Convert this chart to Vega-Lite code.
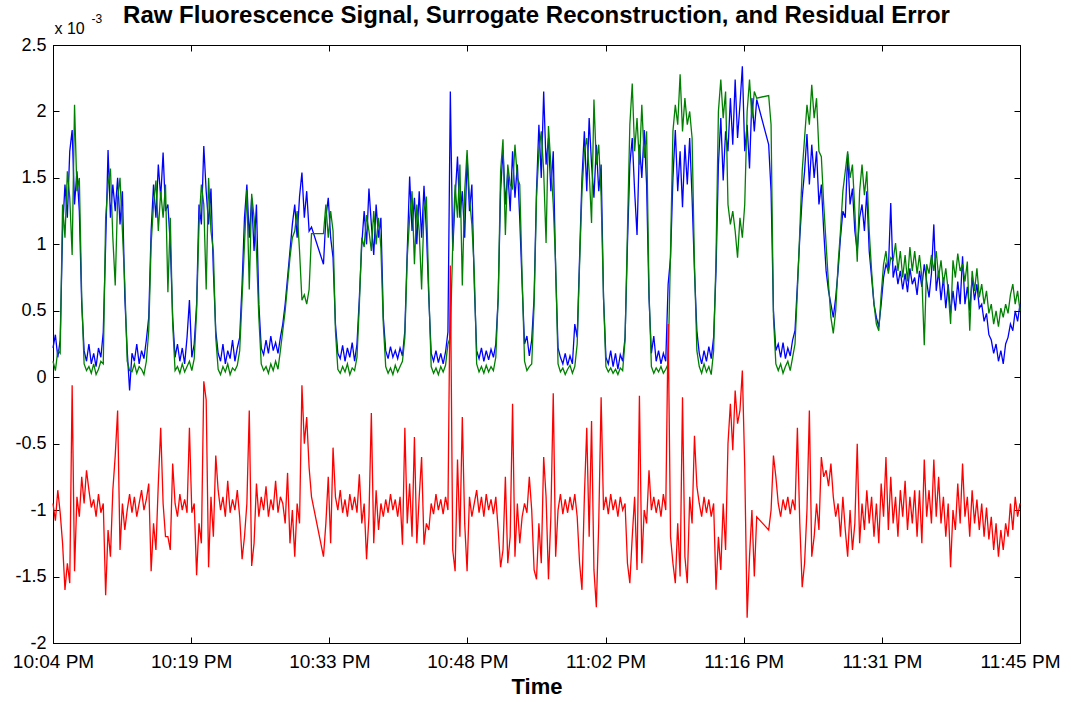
{
"$schema": "https://vega.github.io/schema/vega-lite/v6.json",
"width": 967,
"height": 598,
"autosize": {"type": "none"},
"padding": {"left": 53, "top": 45, "right": 51, "bottom": 59},
"background": "white",
"config": {
  "view": {"stroke": "#000000", "strokeWidth": 1},
  "font": "Liberation Sans",
  "axis": {"grid": false, "domainColor": "#000000", "tickColor": "#000000", "labelColor": "#000000", "titleColor": "#000000", "labelFont": "Liberation Sans", "titleFont": "Liberation Sans"}
},
"title": {"text": "Raw Fluorescence Signal, Surrogate Reconstruction, and Residual Error", "fontSize": 24, "fontWeight": "bold", "font": "Liberation Sans", "color": "#000000", "anchor": "middle", "frame": "group", "offset": -15, "dy": 20, "baseline": "alphabetic"},
"data": {"values": [
{"t":0,"b":0.22,"g":0.12,"r":-0.95},{"t":0.25,"b":0.32,"g":0.05,"r":-1.08},{"t":0.5,"b":0.15,"g":0.2,"r":-0.85},{"t":0.75,"b":0.28,"g":0.18,"r":-1.02},
{"t":1,"b":1.1,"g":1.3,"r":-1.25},{"t":1.25,"b":1.45,"g":1.05,"r":-1.6},{"t":1.5,"b":1.2,"g":1.55,"r":-1.4},{"t":1.75,"b":1.7,"g":1.35,"r":-1.55},
{"t":2,"b":1.86,"g":0.92,"r":-0.06},{"t":2.25,"b":1.3,"g":2.05,"r":-1.46},{"t":2.5,"b":1.55,"g":1.4,"r":-0.9},{"t":2.75,"b":1.25,"g":1.5,"r":-1.05},
{"t":3,"b":0.55,"g":0.6,"r":-0.75},{"t":3.25,"b":0.2,"g":0.1,"r":-0.95},{"t":3.5,"b":0.12,"g":0.05,"r":-0.7},{"t":3.75,"b":0.25,"g":0.08,"r":-0.85},
{"t":4,"b":0.1,"g":0.03,"r":-0.98},{"t":4.25,"b":0.18,"g":0.1,"r":-0.92},{"t":4.5,"b":0.08,"g":0.02,"r":-1.05},{"t":4.75,"b":0.22,"g":0.06,"r":-0.88},
{"t":5,"b":0.15,"g":0.12,"r":-1.02},{"t":5.25,"b":0.34,"g":0.1,"r":-0.95},{"t":5.5,"b":1.0,"g":1.2,"r":-1.64},{"t":5.75,"b":1.71,"g":1.45,"r":-1.15},
{"t":6,"b":1.2,"g":1.57,"r":-1.35},{"t":6.25,"b":1.45,"g":1.05,"r":-0.85},{"t":6.5,"b":1.25,"g":0.69,"r":-0.59},{"t":6.75,"b":1.5,"g":1.35,"r":-0.25},
{"t":7,"b":1.15,"g":1.5,"r":-1.3},{"t":7.25,"b":1.4,"g":1.1,"r":-0.95},{"t":7.5,"b":0.6,"g":0.7,"r":-1.15},{"t":7.75,"b":0.2,"g":0.12,"r":-1.0},
{"t":8,"b":-0.1,"g":0.05,"r":-0.88},{"t":8.25,"b":0.18,"g":0.04,"r":-1.02},{"t":8.5,"b":0.12,"g":0.1,"r":-0.9},{"t":8.75,"b":0.25,"g":0.03,"r":-1.05},
{"t":9,"b":0.1,"g":0.08,"r":-0.95},{"t":9.25,"b":0.2,"g":0.06,"r":-0.85},{"t":9.5,"b":0.14,"g":0.02,"r":-1.0},{"t":9.75,"b":0.28,"g":0.12,"r":-0.92},
{"t":10,"b":0.45,"g":0.35,"r":-0.8},{"t":10.25,"b":1.1,"g":1.0,"r":-1.46},{"t":10.5,"b":1.45,"g":1.3,"r":-1.1},{"t":10.75,"b":1.2,"g":1.48,"r":-1.3},
{"t":11,"b":1.6,"g":1.1,"r":-0.8},{"t":11.25,"b":1.35,"g":1.4,"r":-0.38},{"t":11.5,"b":1.69,"g":1.2,"r":-0.95},{"t":11.75,"b":1.25,"g":1.45,"r":-1.2},
{"t":12,"b":1.3,"g":0.64,"r":-1.2},{"t":12.25,"b":1.0,"g":1.2,"r":-1.3},{"t":12.5,"b":0.45,"g":0.4,"r":-0.65},{"t":12.75,"b":0.15,"g":0.05,"r":-0.95},
{"t":13,"b":0.25,"g":0.08,"r":-1.05},{"t":13.25,"b":0.12,"g":0.03,"r":-0.88},{"t":13.5,"b":0.22,"g":0.1,"r":-1.0},{"t":13.75,"b":0.1,"g":0.04,"r":-0.92},
{"t":14,"b":0.3,"g":0.08,"r":-1.02},{"t":14.25,"b":0.58,"g":0.12,"r":-0.38},{"t":14.5,"b":0.15,"g":0.05,"r":-1.02},{"t":14.75,"b":0.25,"g":0.14,"r":-0.95},
{"t":15,"b":0.55,"g":0.5,"r":-1.49},{"t":15.25,"b":1.3,"g":1.15,"r":-1.1},{"t":15.5,"b":1.15,"g":1.45,"r":-1.25},{"t":15.75,"b":1.74,"g":1.3,"r":-0.03},
{"t":16,"b":1.4,"g":0.66,"r":-0.17},{"t":16.25,"b":1.15,"g":1.5,"r":-1.43},{"t":16.5,"b":1.42,"g":1.1,"r":-0.9},{"t":16.75,"b":0.8,"g":0.95,"r":-1.2},
{"t":17,"b":0.35,"g":0.3,"r":-0.59},{"t":17.25,"b":0.18,"g":0.06,"r":-0.85},{"t":17.5,"b":0.12,"g":0.02,"r":-1.0},{"t":17.75,"b":0.25,"g":0.08,"r":-0.9},
{"t":18,"b":0.1,"g":0.04,"r":-1.05},{"t":18.25,"b":0.2,"g":0.1,"r":-0.78},{"t":18.5,"b":0.14,"g":0.02,"r":-1.02},{"t":18.75,"b":0.28,"g":0.07,"r":-0.92},
{"t":19,"b":0.12,"g":0.05,"r":-1.0},{"t":19.25,"b":0.22,"g":0.09,"r":-0.85},{"t":19.5,"b":0.3,"g":0.2,"r":-1.05},{"t":19.75,"b":0.7,"g":0.6,"r":-1.37},
{"t":20,"b":1.2,"g":1.0,"r":-1.2},{"t":20.25,"b":1.45,"g":1.41,"r":-0.95},{"t":20.5,"b":1.05,"g":0.66,"r":-0.25},{"t":20.75,"b":1.35,"g":1.38,"r":-1.42},
{"t":21,"b":0.95,"g":1.2,"r":-1.25},{"t":21.25,"b":1.3,"g":0.95,"r":-0.8},{"t":21.5,"b":0.55,"g":0.45,"r":-1.05},{"t":21.75,"b":0.22,"g":0.1,"r":-0.9},
{"t":22,"b":0.17,"g":0.05,"r":-1.0},{"t":22.25,"b":0.28,"g":0.08,"r":-0.82},{"t":22.5,"b":0.18,"g":0.03,"r":-1.05},{"t":22.75,"b":0.31,"g":0.1,"r":-0.92},
{"t":23,"b":0.2,"g":0.05,"r":-1.0},{"t":23.25,"b":0.26,"g":0.12,"r":-0.78},{"t":23.5,"b":0.18,"g":0.06,"r":-1.02},{"t":23.75,"b":0.3,"g":0.2,"r":-0.9},
{"t":24,"b":0.4,"g":0.35,"r":-0.95},{"t":24.25,"b":0.55,"g":0.5,"r":-1.1},{"t":24.5,"b":0.75,"g":0.7,"r":-0.72},{"t":24.75,"b":0.95,"g":0.9,"r":-1.25},
{"t":25,"b":1.15,"g":1.05,"r":-1.0},{"t":25.25,"b":1.3,"g":1.1,"r":-1.35},{"t":25.5,"b":1.05,"g":1.25,"r":-0.95},{"t":25.75,"b":1.36,"g":0.95,"r":-1.1},
{"t":26,"b":1.54,"g":0.58,"r":-0.06},{"t":26.25,"b":1.2,"g":0.62,"r":-0.5},{"t":26.5,"b":1.4,"g":0.55,"r":-0.3},{"t":26.75,"b":1.1,"g":0.66,"r":-0.68},
{"t":27,"b":1.13,"g":1.08,"r":-0.9},{"t":28.25,"b":0.85,"g":1.08,"r":-1.35},{"t":28.5,"b":1.2,"g":1.3,"r":-1.1},{"t":28.75,"b":1.35,"g":1.05,"r":-0.75},
{"t":29,"b":1.05,"g":1.25,"r":-1.25},{"t":29.25,"b":0.9,"g":1.1,"r":-0.53},{"t":29.5,"b":0.4,"g":0.35,"r":-0.9},{"t":29.75,"b":0.18,"g":0.06,"r":-1.0},
{"t":30,"b":0.14,"g":0.03,"r":-0.85},{"t":30.25,"b":0.24,"g":0.08,"r":-1.02},{"t":30.5,"b":0.12,"g":0.04,"r":-0.92},{"t":30.75,"b":0.22,"g":0.1,"r":-1.05},
{"t":31,"b":0.15,"g":0.02,"r":-0.88},{"t":31.25,"b":0.26,"g":0.07,"r":-1.0},{"t":31.5,"b":0.12,"g":0.05,"r":-0.9},{"t":31.75,"b":0.25,"g":0.15,"r":-1.02},
{"t":32,"b":0.6,"g":0.55,"r":-0.73},{"t":32.25,"b":1.0,"g":1.05,"r":-1.1},{"t":32.5,"b":1.25,"g":0.98,"r":-0.95},{"t":32.75,"b":1.0,"g":1.22,"r":-1.37},
{"t":33,"b":1.42,"g":1.1,"r":-1.05},{"t":33.25,"b":1.15,"g":0.95,"r":-0.27},{"t":33.5,"b":0.92,"g":1.25,"r":-1.25},{"t":33.75,"b":1.3,"g":1.0,"r":-0.85},
{"t":34,"b":1.05,"g":1.2,"r":-1.15},{"t":34.25,"b":1.2,"g":0.97,"r":-0.95},{"t":34.5,"b":0.45,"g":0.4,"r":-1.05},{"t":34.75,"b":0.2,"g":0.08,"r":-0.92},
{"t":35,"b":0.14,"g":0.03,"r":-1.02},{"t":35.25,"b":0.23,"g":0.07,"r":-0.88},{"t":35.5,"b":0.15,"g":0.02,"r":-1.0},{"t":35.75,"b":0.2,"g":0.09,"r":-0.92},
{"t":36,"b":0.14,"g":0.04,"r":-1.05},{"t":36.25,"b":0.22,"g":0.08,"r":-0.9},{"t":36.5,"b":0.16,"g":0.12,"r":-1.26},{"t":36.75,"b":0.35,"g":0.3,"r":-0.38},
{"t":37,"b":0.95,"g":0.9,"r":-1.1},{"t":37.25,"b":1.51,"g":1.2,"r":-0.8},{"t":37.5,"b":1.1,"g":1.4,"r":-1.2},{"t":37.75,"b":1.35,"g":0.85,"r":-0.45},
{"t":38,"b":1.0,"g":1.3,"r":-1.25},{"t":38.25,"b":1.4,"g":1.1,"r":-0.9},{"t":38.5,"b":1.05,"g":0.66,"r":-0.6},{"t":38.75,"b":1.44,"g":1.25,"r":-1.26},
{"t":39,"b":1.1,"g":1.36,"r":-1.1},{"t":39.25,"b":0.6,"g":0.65,"r":-1.15},{"t":39.5,"b":0.18,"g":0.08,"r":-0.95},{"t":39.75,"b":0.12,"g":0.03,"r":-1.03},
{"t":40,"b":0.2,"g":0.07,"r":-0.88},{"t":40.25,"b":0.11,"g":0.02,"r":-1.0},{"t":40.5,"b":0.18,"g":0.08,"r":-0.92},{"t":40.75,"b":0.1,"g":0.04,"r":-1.03},
{"t":41,"b":0.19,"g":0.09,"r":-0.9},{"t":41.25,"b":0.34,"g":0.25,"r":-1.0},{"t":41.5,"b":2.15,"g":0.3,"r":0.84},{"t":41.75,"b":0.95,"g":1.0,"r":-1.3},
{"t":42,"b":1.35,"g":1.45,"r":-1.46},{"t":42.25,"b":1.66,"g":1.2,"r":-0.62},{"t":42.5,"b":1.2,"g":1.6,"r":-1.2},{"t":42.75,"b":1.4,"g":0.69,"r":-0.3},
{"t":43,"b":1.05,"g":1.4,"r":-1.1},{"t":43.25,"b":1.66,"g":1.71,"r":-1.46},{"t":43.5,"b":1.25,"g":1.35,"r":-0.9},{"t":43.75,"b":1.45,"g":1.15,"r":-1.05},
{"t":44,"b":0.7,"g":0.8,"r":-0.95},{"t":44.25,"b":0.2,"g":0.1,"r":-0.85},{"t":44.5,"b":0.14,"g":0.04,"r":-1.02},{"t":44.75,"b":0.22,"g":0.08,"r":-0.9},
{"t":45,"b":0.12,"g":0.03,"r":-1.05},{"t":45.25,"b":0.2,"g":0.09,"r":-0.88},{"t":45.5,"b":0.13,"g":0.04,"r":-1.0},{"t":45.75,"b":0.21,"g":0.08,"r":-0.92},
{"t":46,"b":0.15,"g":0.05,"r":-1.03},{"t":46.25,"b":0.25,"g":0.15,"r":-0.9},{"t":46.5,"b":0.6,"g":0.6,"r":-1.15},{"t":46.75,"b":1.4,"g":1.55,"r":-1.43},
{"t":47,"b":1.71,"g":1.79,"r":-1.3},{"t":47.25,"b":1.3,"g":1.07,"r":-0.75},{"t":47.5,"b":1.55,"g":1.6,"r":-1.4},{"t":47.75,"b":1.25,"g":1.45,"r":-1.2},
{"t":48,"b":1.7,"g":1.42,"r":-0.2},{"t":48.25,"b":1.35,"g":1.75,"r":-1.35},{"t":48.5,"b":1.6,"g":1.5,"r":-0.95},{"t":48.75,"b":1.19,"g":1.45,"r":-1.25},
{"t":49,"b":0.7,"g":0.75,"r":-1.05},{"t":49.25,"b":0.25,"g":0.12,"r":-0.95},{"t":49.5,"b":0.31,"g":0.05,"r":-1.02},{"t":49.75,"b":0.16,"g":0.08,"r":-0.75},
{"t":50,"b":0.28,"g":0.1,"r":-1.0},{"t":50.25,"b":0.6,"g":0.55,"r":-1.45},{"t":50.5,"b":1.4,"g":1.35,"r":-1.52},{"t":50.75,"b":1.9,"g":1.7,"r":-1.1},
{"t":51,"b":1.5,"g":1.85,"r":-1.4},{"t":51.25,"b":2.15,"g":1.55,"r":-0.6},{"t":51.5,"b":1.6,"g":1.01,"r":-0.9},{"t":51.75,"b":1.8,"g":1.89,"r":-1.52},
{"t":52,"b":1.4,"g":1.6,"r":-1.05},{"t":52.25,"b":1.7,"g":1.3,"r":-0.12},{"t":52.5,"b":0.8,"g":0.85,"r":-1.35},{"t":52.75,"b":0.22,"g":0.1,"r":-1.0},
{"t":53,"b":0.15,"g":0.04,"r":-0.88},{"t":53.25,"b":0.1,"g":0.07,"r":-1.03},{"t":53.5,"b":0.18,"g":0.02,"r":-0.92},{"t":53.75,"b":0.09,"g":0.06,"r":-1.02},
{"t":54,"b":0.16,"g":0.09,"r":-0.9},{"t":54.25,"b":0.1,"g":0.03,"r":-1.0},{"t":54.5,"b":0.4,"g":0.08,"r":-0.88},{"t":54.75,"b":0.3,"g":0.25,"r":-1.05},
{"t":55,"b":0.9,"g":0.85,"r":-1.4},{"t":55.25,"b":1.5,"g":1.4,"r":-1.6},{"t":55.5,"b":1.85,"g":1.7,"r":-0.9},{"t":55.75,"b":1.4,"g":1.8,"r":-0.38},
{"t":56,"b":1.95,"g":1.55,"r":-1.2},{"t":56.25,"b":1.6,"g":1.16,"r":-0.33},{"t":56.5,"b":1.35,"g":2.09,"r":-1.45},{"t":56.75,"b":1.75,"g":1.6,"r":-1.73},
{"t":57,"b":1.4,"g":1.75,"r":-1.1},{"t":57.25,"b":1.6,"g":1.36,"r":-0.15},{"t":57.5,"b":0.6,"g":0.6,"r":-1.0},{"t":57.75,"b":0.15,"g":0.08,"r":-0.9},
{"t":58,"b":0.1,"g":0.04,"r":-1.03},{"t":58.25,"b":0.2,"g":0.07,"r":-0.88},{"t":58.5,"b":0.08,"g":0.03,"r":-1.0},{"t":58.75,"b":0.18,"g":0.06,"r":-0.92},
{"t":59,"b":0.06,"g":0.02,"r":-1.05},{"t":59.25,"b":0.17,"g":0.07,"r":-0.9},{"t":59.5,"b":0.12,"g":0.05,"r":-1.0},{"t":59.75,"b":0.3,"g":0.28,"r":-0.95},
{"t":60,"b":1.0,"g":1.1,"r":-1.4},{"t":60.25,"b":1.6,"g":1.9,"r":-1.55},{"t":60.5,"b":1.8,"g":2.21,"r":-1.2},{"t":60.75,"b":1.4,"g":1.7,"r":-0.9},
{"t":61,"b":1.07,"g":1.95,"r":-1.45},{"t":61.25,"b":1.75,"g":1.6,"r":-0.14},{"t":61.5,"b":1.5,"g":2.05,"r":-1.4},{"t":61.75,"b":1.86,"g":1.65,"r":-1.0},
{"t":62,"b":1.45,"g":1.85,"r":-1.1},{"t":62.25,"b":0.6,"g":0.65,"r":-0.7},{"t":62.5,"b":0.18,"g":0.08,"r":-1.0},{"t":62.75,"b":0.31,"g":0.03,"r":-0.9},
{"t":63,"b":0.12,"g":0.07,"r":-1.02},{"t":63.25,"b":0.2,"g":0.04,"r":-0.92},{"t":63.5,"b":0.1,"g":0.08,"r":-1.05},{"t":63.75,"b":0.18,"g":0.03,"r":-0.88},
{"t":64,"b":0.12,"g":0.06,"r":-1.0},{"t":64.25,"b":0.7,"g":0.1,"r":0.4},{"t":64.5,"b":0.9,"g":0.95,"r":-1.2},{"t":64.75,"b":1.5,"g":1.85,"r":-1.4},
{"t":65,"b":1.86,"g":2.05,"r":-1.55},{"t":65.25,"b":1.4,"g":1.9,"r":-1.1},{"t":65.5,"b":1.7,"g":2.28,"r":-1.5},{"t":65.75,"b":1.28,"g":1.85,"r":-0.15},
{"t":66,"b":1.75,"g":2.1,"r":-1.35},{"t":66.25,"b":1.45,"g":1.9,"r":-1.55},{"t":66.5,"b":1.8,"g":2.0,"r":-0.9},{"t":66.75,"b":1.35,"g":1.8,"r":-1.1},
{"t":67,"b":0.8,"g":0.85,"r":-0.44},{"t":67.25,"b":0.35,"g":0.2,"r":-0.82},{"t":67.5,"b":0.18,"g":0.08,"r":-0.95},{"t":67.75,"b":0.1,"g":0.03,"r":-1.05},
{"t":68,"b":0.2,"g":0.1,"r":-0.9},{"t":68.25,"b":0.12,"g":0.04,"r":-1.02},{"t":68.5,"b":0.23,"g":0.08,"r":-0.92},{"t":68.75,"b":0.14,"g":0.02,"r":-1.05},
{"t":69,"b":0.3,"g":0.2,"r":-0.95},{"t":69.25,"b":0.8,"g":0.9,"r":-1.6},{"t":69.5,"b":1.6,"g":2.0,"r":-1.2},{"t":69.75,"b":1.95,"g":2.24,"r":-1.45},
{"t":70,"b":1.48,"g":1.95,"r":-0.95},{"t":70.25,"b":1.85,"g":2.15,"r":-1.3},{"t":70.5,"b":1.7,"g":1.3,"r":-0.5},{"t":70.75,"b":2.1,"g":1.15,"r":-0.2},
{"t":71,"b":1.75,"g":1.25,"r":-0.55},{"t":71.25,"b":2.24,"g":1.1,"r":-0.1},{"t":71.5,"b":1.8,"g":0.9,"r":-0.35},{"t":71.75,"b":2.05,"g":1.2,"r":-0.25},
{"t":72,"b":2.34,"g":1.05,"r":0.05},{"t":72.25,"b":1.7,"g":1.3,"r":-0.68},{"t":72.5,"b":1.9,"g":2.0,"r":-1.81},{"t":72.75,"b":1.57,"g":2.24,"r":-1.35},
{"t":73,"b":2.1,"g":1.95,"r":-1.0},{"t":73.25,"b":1.85,"g":2.15,"r":-1.5},{"t":73.5,"b":2.09,"g":2.1,"r":-1.05},{"t":74.75,"b":1.75,"g":2.12,"r":-1.15},
{"t":75,"b":1.4,"g":1.9,"r":-1.0},{"t":75.25,"b":0.5,"g":0.45,"r":-0.59},{"t":75.5,"b":0.2,"g":0.1,"r":-0.75},{"t":75.75,"b":0.25,"g":0.05,"r":-0.95},
{"t":76,"b":0.15,"g":0.1,"r":-1.05},{"t":76.25,"b":0.26,"g":0.03,"r":-0.92},{"t":76.5,"b":0.14,"g":0.08,"r":-1.0},{"t":76.75,"b":0.22,"g":0.12,"r":-0.9},
{"t":77,"b":0.16,"g":0.05,"r":-1.03},{"t":77.25,"b":0.28,"g":0.15,"r":-0.92},{"t":77.5,"b":0.35,"g":0.25,"r":-1.0},{"t":77.75,"b":0.7,"g":0.65,"r":-0.38},
{"t":78,"b":1.05,"g":1.1,"r":-1.1},{"t":78.25,"b":1.35,"g":1.55,"r":-1.58},{"t":78.5,"b":1.55,"g":1.8,"r":-1.4},{"t":78.75,"b":1.83,"g":2.05,"r":-1.0},
{"t":79,"b":1.45,"g":1.9,"r":-0.25},{"t":79.25,"b":1.75,"g":2.2,"r":-1.35},{"t":79.5,"b":1.5,"g":1.95,"r":-1.2},{"t":79.75,"b":1.7,"g":2.1,"r":-0.95},
{"t":80,"b":1.3,"g":1.7,"r":-1.15},{"t":80.25,"b":1.45,"g":1.66,"r":-0.6},{"t":80.5,"b":1.1,"g":1.3,"r":-0.75},{"t":80.75,"b":0.8,"g":1.0,"r":-0.7},
{"t":81,"b":0.65,"g":0.7,"r":-0.82},{"t":81.25,"b":0.55,"g":0.45,"r":-0.65},{"t":81.5,"b":0.45,"g":0.33,"r":-0.9},{"t":81.75,"b":0.6,"g":0.5,"r":-1.05},
{"t":82,"b":0.8,"g":0.85,"r":-0.95},{"t":82.25,"b":1.05,"g":1.1,"r":-1.2},{"t":82.5,"b":1.25,"g":1.4,"r":-0.9},{"t":82.75,"b":1.2,"g":1.55,"r":-1.15},
{"t":83,"b":1.68,"g":1.7,"r":-1.35},{"t":83.25,"b":1.3,"g":1.5,"r":-1.0},{"t":83.5,"b":1.42,"g":1.6,"r":-1.3},{"t":83.75,"b":1.1,"g":1.25,"r":-1.1},
{"t":84,"b":0.95,"g":0.87,"r":-0.5},{"t":84.25,"b":1.2,"g":1.4,"r":-1.25},{"t":84.5,"b":1.3,"g":1.6,"r":-0.95},{"t":84.75,"b":1.1,"g":1.37,"r":-1.15},
{"t":85,"b":1.4,"g":1.55,"r":-0.85},{"t":85.25,"b":0.95,"g":1.1,"r":-1.1},{"t":85.5,"b":0.75,"g":0.8,"r":-0.9},{"t":85.75,"b":0.55,"g":0.55,"r":-1.2},
{"t":86,"b":0.45,"g":0.4,"r":-0.95},{"t":86.25,"b":0.38,"g":0.35,"r":-1.25},{"t":86.5,"b":0.55,"g":0.62,"r":-0.8},{"t":86.75,"b":0.75,"g":0.85,"r":-1.05},
{"t":87,"b":0.85,"g":0.95,"r":-0.6},{"t":87.25,"b":0.8,"g":0.78,"r":-1.15},{"t":87.5,"b":1.31,"g":0.9,"r":-0.75},{"t":87.75,"b":0.75,"g":0.88,"r":-1.1},
{"t":88,"b":0.84,"g":1.01,"r":-0.9},{"t":88.25,"b":0.7,"g":0.8,"r":-1.2},{"t":88.5,"b":0.8,"g":0.95,"r":-0.85},{"t":88.75,"b":0.66,"g":0.75,"r":-1.05},
{"t":89,"b":0.78,"g":0.92,"r":-0.78},{"t":89.25,"b":0.64,"g":0.72,"r":-1.15},{"t":89.5,"b":0.82,"g":0.98,"r":-0.9},{"t":89.75,"b":0.7,"g":0.8,"r":-1.1},
{"t":90,"b":0.75,"g":0.95,"r":-0.85},{"t":90.25,"b":0.62,"g":0.78,"r":-1.2},{"t":90.5,"b":0.8,"g":0.92,"r":-0.85},{"t":90.75,"b":0.68,"g":0.75,"r":-1.25},
{"t":91,"b":0.85,"g":0.24,"r":-0.62},{"t":91.25,"b":0.72,"g":0.85,"r":-1.05},{"t":91.5,"b":0.6,"g":0.78,"r":-0.85},{"t":91.75,"b":0.78,"g":0.92,"r":-1.1},
{"t":92,"b":1.15,"g":0.8,"r":-0.62},{"t":92.25,"b":0.65,"g":0.95,"r":-1.05},{"t":92.5,"b":0.8,"g":0.75,"r":-0.75},{"t":92.75,"b":0.58,"g":0.88,"r":-1.1},
{"t":93,"b":0.75,"g":0.7,"r":-0.9},{"t":93.25,"b":0.52,"g":0.82,"r":-1.2},{"t":93.5,"b":0.7,"g":0.65,"r":-0.95},{"t":93.75,"b":0.48,"g":0.4,"r":-1.43},
{"t":94,"b":0.65,"g":0.88,"r":-1.0},{"t":94.25,"b":0.5,"g":0.75,"r":-1.15},{"t":94.5,"b":0.72,"g":0.93,"r":-0.8},{"t":94.75,"b":0.55,"g":0.8,"r":-1.1},
{"t":95,"b":0.91,"g":0.85,"r":-0.65},{"t":95.25,"b":0.55,"g":0.72,"r":-1.05},{"t":95.5,"b":0.68,"g":0.87,"r":-0.9},{"t":95.75,"b":0.5,"g":0.35,"r":-1.2},
{"t":96,"b":0.75,"g":0.8,"r":-0.85},{"t":96.25,"b":0.58,"g":0.65,"r":-1.1},{"t":96.5,"b":0.7,"g":0.82,"r":-0.92},{"t":96.75,"b":0.52,"g":0.6,"r":-1.15},
{"t":97,"b":0.55,"g":0.7,"r":-0.95},{"t":97.25,"b":0.42,"g":0.55,"r":-1.2},{"t":97.5,"b":0.48,"g":0.65,"r":-0.98},{"t":97.75,"b":0.32,"g":0.48,"r":-1.22},
{"t":98,"b":0.28,"g":0.55,"r":-1.05},{"t":98.25,"b":0.18,"g":0.4,"r":-1.3},{"t":98.5,"b":0.25,"g":0.5,"r":-1.1},{"t":98.75,"b":0.12,"g":0.38,"r":-1.35},
{"t":99,"b":0.2,"g":0.52,"r":-1.15},{"t":99.25,"b":0.1,"g":0.45,"r":-1.3},{"t":99.5,"b":0.25,"g":0.55,"r":-1.1},{"t":99.75,"b":0.3,"g":0.48,"r":-1.2},
{"t":100,"b":0.4,"g":0.62,"r":-0.95},{"t":100.25,"b":0.35,"g":0.7,"r":-1.15},{"t":100.5,"b":0.5,"g":0.55,"r":-0.9},{"t":100.75,"b":0.42,"g":0.65,"r":-1.05},
{"t":101,"b":0.55,"g":0.5,"r":-0.95}
]},
"layer": [
  {"mark": {"type": "line", "color": "#0000ff", "strokeWidth": 1.3, "interpolate": "linear"},
   "encoding": {
     "x": {"field": "t", "type": "quantitative", "scale": {"domain": [0, 101], "nice": false, "zero": false},
       "axis": {"orient": "bottom", "values": [0, 14.428571, 28.857143, 43.285714, 57.714286, 72.142857, 86.571429, 101],
         "labelExpr": "['10:04 PM','10:19 PM','10:33 PM','10:48 PM','11:02 PM','11:16 PM','11:31 PM','11:45 PM'][round(datum.value*7/101)]",
         "tickSize": -6, "labelPadding": 15, "labelFontSize": 19, "labelFlush": false, "labelOverlap": false,
         "title": "Time", "titleFontSize": 22, "titleFontWeight": "bold", "titlePadding": 5}},
     "y": {"field": "b", "type": "quantitative", "scale": {"domain": [-2, 2.5], "nice": false, "zero": false},
       "axis": {"orient": "left", "values": [-2, -1.5, -1, -0.5, 0, 0.5, 1, 1.5, 2, 2.5],
         "labelExpr": "'' + datum.value", "tickSize": -6, "labelPadding": 13, "labelFontSize": 18, "labelOverlap": false,
         "title": "x 10", "titleAngle": 0, "titleAlign": "left", "titleBaseline": "alphabetic", "titleX": 1, "titleY": -12,
         "titleFontSize": 16, "titleFontWeight": "normal"}}
   }},
  {"mark": {"type": "line", "color": "#008000", "strokeWidth": 1.3, "interpolate": "linear"},
   "encoding": {
     "x": {"field": "t", "type": "quantitative", "scale": {"domain": [0, 101], "nice": false, "zero": false},
       "axis": {"orient": "top", "values": [0, 14.428571, 28.857143, 43.285714, 57.714286, 72.142857, 86.571429, 101],
         "labels": false, "tickSize": -6, "title": null}},
     "y": {"field": "g", "type": "quantitative", "scale": {"domain": [-2, 2.5], "nice": false, "zero": false},
       "axis": {"orient": "right", "values": [-2, -1.5, -1, -0.5, 0, 0.5, 1, 1.5, 2, 2.5],
         "labels": false, "tickSize": -6,
         "title": "-3", "titleAngle": 0, "titleAlign": "left", "titleBaseline": "alphabetic", "titleX": -929, "titleY": -23,
         "titleFontSize": 12, "titleFontWeight": "normal"}}
   }},
  {"mark": {"type": "line", "color": "#ff0000", "strokeWidth": 1.3, "interpolate": "linear"},
   "encoding": {
     "x": {"field": "t", "type": "quantitative", "scale": {"domain": [0, 101], "nice": false, "zero": false}, "axis": null},
     "y": {"field": "r", "type": "quantitative", "scale": {"domain": [-2, 2.5], "nice": false, "zero": false}, "axis": null}
   }}
],
"resolve": {"axis": {"x": "independent", "y": "independent"}}
}
